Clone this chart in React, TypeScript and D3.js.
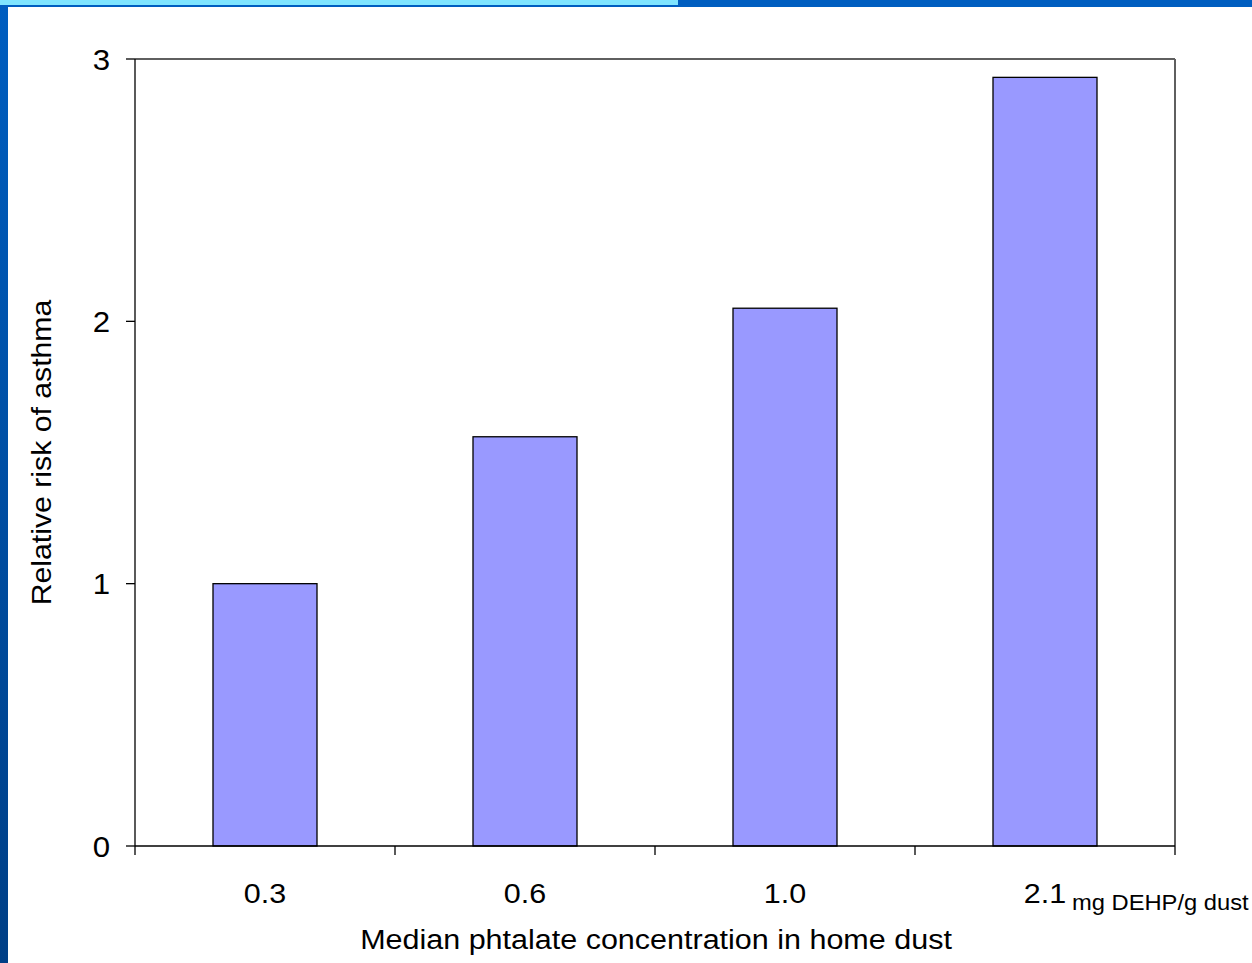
import React from "react";
import * as d3 from "d3";

const categories = ["0.3", "0.6", "1.0", "2.1"];
const relativeRisk = [1.0, 1.56, 2.05, 2.93];
const yTicks = [0, 1, 2, 3];

const W = 1252;
const H = 963;
const plot = { left: 135, right: 1175, top: 59, bottom: 846 };
const FONT = "'Liberation Sans', Arial, sans-serif";
// glyphs are drawn slightly wide along the reading direction
const STRETCH = 1.09;

type LabelProps = {
  x: number;
  y: number;
  size: number;
  anchor?: "start" | "middle" | "end";
  rotate?: number;
  stretch?: number;
  dy?: string;
  children: React.ReactNode;
};

function Label({ x, y, size, anchor = "start", rotate = 0, stretch = STRETCH, dy, children }: LabelProps) {
  return (
    <text
      transform={`translate(${x},${y}) rotate(${rotate}) scale(${stretch},1)`}
      textAnchor={anchor}
      fontSize={size}
      dy={dy}
      fill="#000"
    >
      {children}
    </text>
  );
}

export default function App() {
  const x = d3
    .scaleBand<string>()
    .domain(categories)
    .range([plot.left, plot.right])
    .paddingInner(0.6)
    .paddingOuter(0.3);
  const band = d3.scaleBand<string>().domain(categories).range([plot.left, plot.right]);
  const y = d3.scaleLinear().domain([0, 3]).range([plot.bottom, plot.top]);

  const boundaries = [...categories.map((c) => band(c) as number), plot.right];

  return (
    <svg
      width={W}
      height={H}
      style={{ position: "fixed", left: 0, top: 0, background: "#fff" }}
      fontFamily={FONT}
    >
      <defs>
        <linearGradient id="sideBar" x1="0" y1="0" x2="0" y2="1">
          <stop offset="0" stopColor="#005ec0" />
          <stop offset="1" stopColor="#003f86" />
        </linearGradient>
      </defs>
      <rect x={0} y={0} width={W} height={H} fill="#fff" />
      {/* slide frame */}
      <rect x={0} y={0} width={W} height={7} fill="#005ec0" />
      <rect x={0} y={0} width={678} height={5} fill="#7fe5ff" />
      <rect x={0} y={5} width={8} height={H - 5} fill="url(#sideBar)" />

      {/* plot frame: top and right in grey */}
      <line x1={plot.left} x2={plot.right} y1={plot.top} y2={plot.top} stroke="#5f5f5f" strokeWidth={2} />
      <line x1={plot.right} x2={plot.right} y1={plot.top} y2={plot.bottom} stroke="#5f5f5f" strokeWidth={2} />

      {/* bars */}
      {categories.map((c, i) => (
        <rect
          key={c}
          x={x(c)}
          y={y(relativeRisk[i])}
          width={x.bandwidth()}
          height={plot.bottom - y(relativeRisk[i])}
          fill="#9999ff"
          stroke="#000"
          strokeWidth={1.3}
        />
      ))}

      {/* y axis */}
      <line x1={plot.left} x2={plot.left} y1={plot.top} y2={plot.bottom} stroke="#000" strokeWidth={1.3} />
      {yTicks.map((t) => (
        <g key={t}>
          <line x1={plot.left - 9} x2={plot.left} y1={y(t)} y2={y(t)} stroke="#000" strokeWidth={1.3} />
          <Label x={110} y={y(t)} size={30} anchor="end" dy="0.36em" stretch={1.04}>
            {t}
          </Label>
        </g>
      ))}

      {/* x axis */}
      <line x1={plot.left} x2={plot.right} y1={plot.bottom} y2={plot.bottom} stroke="#000" strokeWidth={1.3} />
      {boundaries.map((b, i) => (
        <line key={i} x1={b} x2={b} y1={plot.bottom} y2={plot.bottom + 9} stroke="#000" strokeWidth={1.3} />
      ))}
      {categories.map((c) => (
        <Label key={c} x={(x(c) as number) + x.bandwidth() / 2} y={903} size={28} anchor="middle">
          {c}
        </Label>
      ))}
      <Label x={1072} y={910} size={22.5} stretch={1.055}>
        mg DEHP/g dust
      </Label>

      <Label x={656} y={949} size={28} anchor="middle">
        Median phtalate concentration in home dust
      </Label>
      <Label x={51} y={(plot.top + plot.bottom) / 2} size={28} anchor="middle" rotate={-90} stretch={1.08}>
        Relative risk of asthma
      </Label>
    </svg>
  );
}
